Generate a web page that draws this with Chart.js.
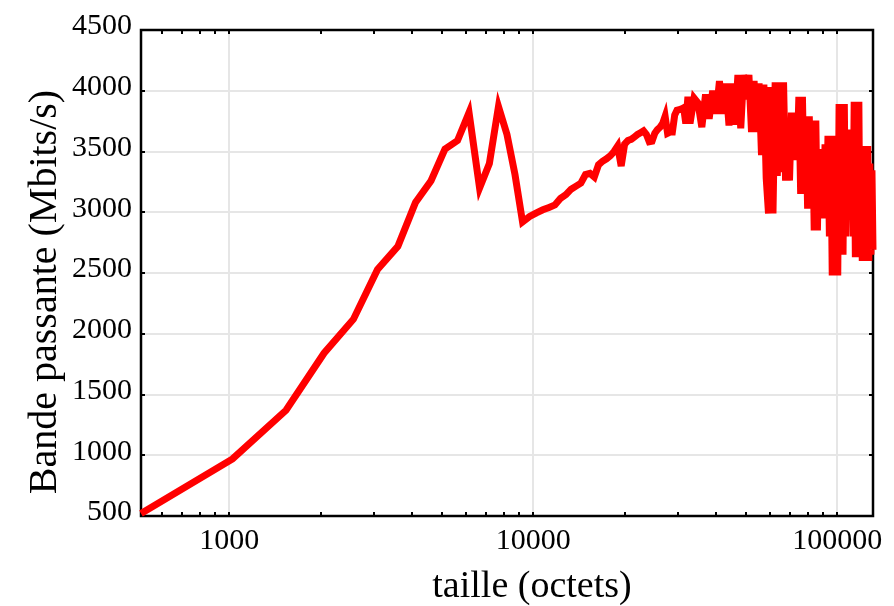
<!DOCTYPE html>
<html>
<head>
<meta charset="utf-8">
<script src="https://cdn.jsdelivr.net/npm/chart.js@4.4.1/dist/chart.umd.min.js"></script>
<style>
  html, body { margin: 0; padding: 0; background: #fff; }
  #wrap { width: 894px; height: 606px; }
</style>
</head>
<body>
<div id="wrap"><canvas id="bw"></canvas></div>
<script>
// tailles des messages (octets)
const sizes = [
  512, 1024, 1536, 2048, 2560, 3072, 3584, 4096, 4608, 5120, 5632, 6144, 6656, 7168, 7680, 8192,
  8704, 9216, 9728, 10240, 10752, 11264, 11776, 12288, 12800, 13312, 13824, 14336, 14848, 15360, 15872, 16384,
  16896, 17408, 17920, 18432, 18944, 19456, 19968, 20480, 20992, 21504, 22016, 22528, 23040, 23552, 24064, 24576,
  25088, 25600, 26112, 26624, 27136, 27648, 28160, 28672, 29184, 29696, 30208, 30720, 31232, 31744, 32256, 32768,
  33792, 34816, 35840, 36864, 37888, 38912, 39936, 40960, 41984, 43008, 44032, 45056, 46080,
  47104, 48128, 49152, 50176, 51200, 52224, 53248, 54272, 55296, 56320, 57344, 58368, 59392, 60416, 61440, 62464,
  63488, 64512, 65536, 66560, 67584, 68608, 69632, 70656, 71680, 72704, 73728, 74752, 75776, 76800, 77824, 78848,
  79872, 80896, 81920, 82944, 83968, 84992, 86016, 87040, 88064, 89088, 90112, 91136, 92160, 93184, 94208, 95232,
  96256, 97280, 98304, 99328, 100352, 101376, 102400, 103424, 104448, 105472, 106496, 107520, 108544, 109568, 110592, 111616,
  112640, 113664, 114688, 115712, 116736, 117760, 118784, 119808, 120832, 121856, 122880, 123904, 124928, 125952, 126976, 128000,
  129024, 130048, 131072
];

// bande passante mesuree (Mbits/s)
const bandwidth = [
  520, 970, 1370, 1840, 2120, 2530, 2720, 3080, 3260, 3520, 3590, 3820, 3200, 3400, 3870, 3640,
  3310, 2920, 2965, 2995, 3020, 3040, 3060, 3115, 3145, 3190, 3215, 3240, 3310, 3320, 3290, 3390,
  3420, 3440, 3465, 3500, 3545, 3380, 3560, 3590, 3600, 3620, 3640, 3655, 3670, 3640, 3580, 3585,
  3650, 3680, 3700, 3730, 3790, 3650, 3660, 3660, 3800, 3840, 3845, 3850, 3860, 3730, 3950, 3730,
  3940, 3900, 3700, 3970, 3770, 4000, 3810, 4080, 3810, 4060, 3715, 4060, 3720,
  4130, 3690, 4130, 3930, 4130, 3660, 4080, 3660, 4060, 3470, 4050, 3280, 2990, 4030, 2990, 4070,
  3300, 4070, 3330, 4070, 3260, 3710, 3260, 3820, 3430, 3820, 3430, 3950, 3150, 3950, 3150, 3790,
  3030, 3790, 3030, 3755, 2850, 3755, 2850, 3520, 3000, 3520, 2950, 3560, 2950, 3630, 2800, 3630,
  2480, 3630, 2480, 3600, 2480, 3890, 2650, 3890, 2650, 3890, 2800, 3680, 2960, 3680, 2960, 3680,
  2800, 3910, 2630, 3910, 2630, 3910, 2630, 3545, 2600, 3545, 2600, 3545, 2600, 3545, 2600, 3400,
  2650, 3345, 2690
];

const xMajorTicks = [1000, 10000, 100000];
const xMinorTicks = [600, 700, 800, 900, 2000, 3000, 4000, 5000, 6000, 7000, 8000, 9000,
  20000, 30000, 40000, 50000, 60000, 70000, 80000, 90000];
const yTicks = [500, 1000, 1500, 2000, 2500, 3000, 3500, 4000, 4500];

const xTitle = 'taille (octets)';
const yTitle = 'Bande passante (Mbits/s)';

const FONT = '"Liberation Serif", "Times New Roman", serif';
const GRID = '#e6e6e6';
const xAllTicks = xMinorTicks.concat(xMajorTicks).sort((a, b) => a - b);

// cadre noir, petites graduations vers l'interieur, titres des axes
const framePlugin = {
  id: 'frame',
  beforeDatasetsDraw(chart) {
    const { ctx, chartArea: a, scales: { x, y } } = chart;
    const len = 4;
    ctx.save();
    ctx.strokeStyle = '#000';
    ctx.lineWidth = 2;
    ctx.beginPath();
    xAllTicks.forEach(v => {
      const px = Math.round(x.getPixelForValue(v));
      ctx.moveTo(px, a.bottom); ctx.lineTo(px, a.bottom - len);
      ctx.moveTo(px, a.top); ctx.lineTo(px, a.top + len);
    });
    yTicks.forEach(v => {
      const py = Math.round(y.getPixelForValue(v));
      ctx.moveTo(a.left, py); ctx.lineTo(a.left + len, py);
      ctx.moveTo(a.right, py); ctx.lineTo(a.right - len, py);
    });
    ctx.stroke();
    ctx.lineWidth = 2.5;
    ctx.strokeRect(a.left, a.top, a.right - a.left, a.bottom - a.top);
    ctx.restore();
    // les pointes trop aigues sont coupees, comme sur l'original
    ctx.miterLimit = 4.8;
  },
  afterDraw(chart) {
    const { ctx, chartArea: a } = chart;
    ctx.save();
    ctx.fillStyle = '#000';
    ctx.textAlign = 'center';
    ctx.textBaseline = 'alphabetic';
    ctx.font = '38px ' + FONT;
    ctx.fillText(xTitle, (a.left + a.right) / 2 + 25, 597);
    ctx.font = '40px ' + FONT;
    ctx.translate(56, (a.top + a.bottom) / 2 + 19);
    ctx.rotate(-Math.PI / 2);
    ctx.fillText(yTitle, 0, 0);
    ctx.restore();
  }
};

const points = sizes.map((s, i) => ({ x: s, y: bandwidth[i] }));

new Chart(document.getElementById('bw'), {
  type: 'line',
  data: {
    datasets: [{
      data: points,
      borderColor: '#ff0000',
      backgroundColor: '#ff0000',
      borderWidth: 7,
      borderJoinStyle: 'miter',
      pointRadius: 0,
      tension: 0,
      fill: false,
      clip: 8
    }]
  },
  options: {
    responsive: true,
    maintainAspectRatio: false,
    animation: false,
    layout: { padding: { top: 30, right: 21, left: 0, bottom: 0 } },
    plugins: {
      legend: { display: false },
      tooltip: { enabled: false }
    },
    scales: {
      x: {
        type: 'logarithmic',
        min: 512,
        max: 131072,
        afterBuildTicks: s => { s.ticks = xAllTicks.map(v => ({ value: v })); },
        afterFit: s => { s.height = 90; },
        border: { display: false },
        grid: {
          drawTicks: false,
          lineWidth: 2,
          color: c => (c.tick && xMajorTicks.includes(c.tick.value)) ? GRID : 'rgba(0,0,0,0)'
        },
        ticks: {
          autoSkip: false,
          maxRotation: 0,
          minRotation: 0,
          padding: 7,
          color: '#000',
          font: { family: FONT, size: 30 },
          callback: v => xMajorTicks.includes(v) ? String(v) : ''
        }
      },
      y: {
        min: 500,
        max: 4500,
        afterFit: s => { s.width = 141; },
        border: { display: false },
        grid: { drawTicks: false, lineWidth: 2, color: GRID },
        ticks: {
          stepSize: 500,
          padding: 9,
          labelOffset: -3.5,
          color: '#000',
          font: { family: FONT, size: 30 },
          callback: v => String(v)
        }
      }
    }
  },
  plugins: [framePlugin]
});
</script>
</body>
</html>
